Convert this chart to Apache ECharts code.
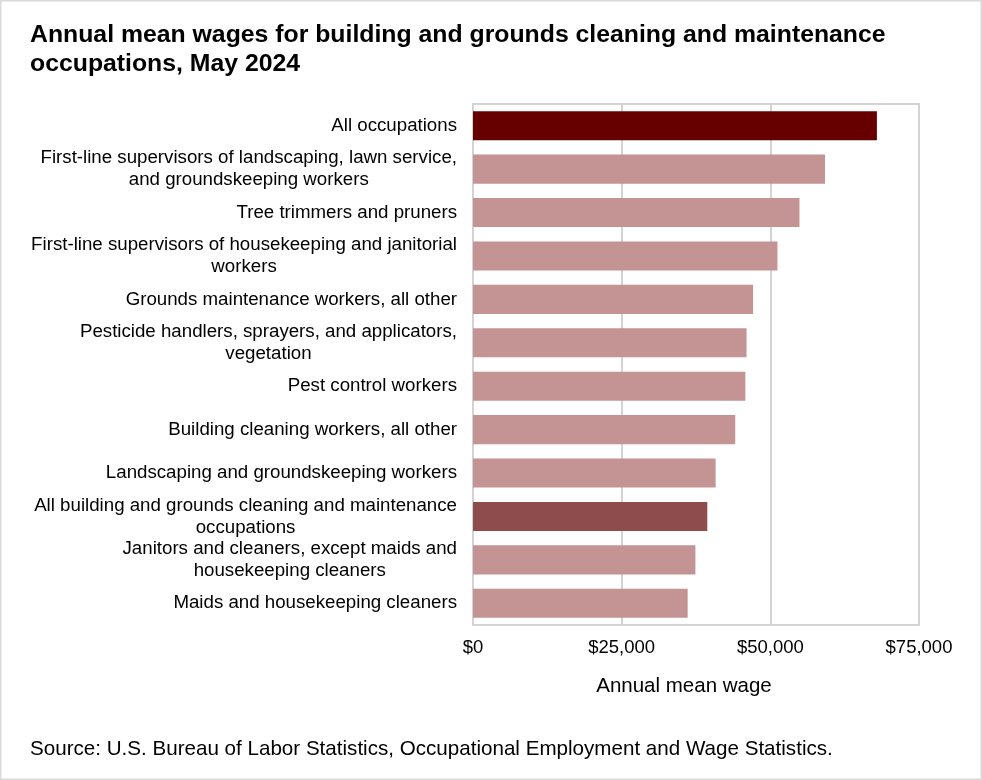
<!DOCTYPE html>
<html>
<head>
<meta charset="utf-8">
<script src="https://cdn.jsdelivr.net/npm/echarts@6/dist/echarts.min.js"></script>
<style>
html,body{margin:0;padding:0;background:#fff;}
#chart{width:982px;height:780px;}
</style>
</head>
<body>
<div id="chart"></div>
<script>
const categories = [
  "All occupations",
  "First-line supervisors of landscaping, lawn service,\nand groundskeeping workers",
  "Tree trimmers and pruners",
  "First-line supervisors of housekeeping and janitorial\nworkers",
  "Grounds maintenance workers, all other",
  "Pesticide handlers, sprayers, and applicators,\nvegetation",
  "Pest control workers",
  "Building cleaning workers, all other",
  "Landscaping and groundskeeping workers",
  "All building and grounds cleaning and maintenance\noccupations",
  "Janitors and cleaners, except maids and\nhousekeeping cleaners",
  "Maids and housekeeping cleaners"
];
const wages = [67920, 59200, 54900, 51200, 47100, 46000, 45800, 44100, 40800, 39400, 37400, 36100];
const xTicks = [0, 25000, 50000, 75000];

const COLOR_ALL = "#660000";
const COLOR_GROUP = "#8f4c4c";
const COLOR_OTHER = "#c49393";
function barColor(name) {
  if (name === "All occupations") return COLOR_ALL;
  if (name.indexOf("All building and grounds") === 0) return COLOR_GROUP;
  return COLOR_OTHER;
}

const chart = echarts.init(document.getElementById("chart"), null, {renderer: "canvas"});
const FONT = "Liberation Sans, Arial, sans-serif";
const option = {
  animation: false,
  backgroundColor: "#ffffff",
  textStyle: {fontFamily: FONT},
  title: {
    text: "Annual mean wages for building and grounds cleaning and maintenance\noccupations, May 2024",
    left: 25,
    top: 16,
    textStyle: {fontFamily: FONT, fontWeight: "bold", fontSize: 24.8, lineHeight: 29, color: "#000"}
  },
  graphic: [
    {
      type: "rect", z: -1, silent: true,
      shape: {x: 0.75, y: 0.75, width: 980.5, height: 778.5},
      style: {fill: "none", stroke: "#d9d9d9", lineWidth: 1.5}
    },
    {
      type: "text", silent: true,
      x: 30, y: 749,
      style: {
        text: "Source: U.S. Bureau of Labor Statistics, Occupational Employment and Wage Statistics.",
        font: "20.6px " + FONT, fill: "#000", verticalAlign: "middle", align: "left"
      }
    }
  ],
  grid: {
    left: 473, right: 63, top: 104, bottom: 155,
    show: true, borderColor: "#d3d3d3", borderWidth: 2
  },
  xAxis: {
    type: "value",
    min: xTicks[0], max: xTicks[xTicks.length - 1], interval: xTicks[1] - xTicks[0],
    name: "Annual mean wage",
    nameLocation: "middle",
    nameGap: 51,
    nameTextStyle: {fontFamily: FONT, fontSize: 20.5, color: "#000", padding: [0, 24, 0, 0]},
    axisLine: {show: false},
    axisTick: {show: false},
    axisLabel: {
      fontFamily: FONT, fontSize: 18.5, color: "#000", margin: 13,
      formatter: v => "$" + v.toLocaleString("en-US")
    },
    splitLine: {show: true, lineStyle: {color: "#d3d3d3", width: 2}}
  },
  yAxis: {
    type: "category",
    inverse: true,
    data: categories,
    axisLine: {show: true, lineStyle: {color: "#d3d3d3", width: 2}},
    axisTick: {show: false},
    axisLabel: {
      margin: 16,
      align: "right",
      color: "#000",
      fontFamily: FONT,
      fontSize: 18.7,
      lineHeight: 22,
      formatter: v => v.split("\n").map(l => "{c|" + l + "}").join("\n"),
      rich: {c: {align: "center", fontFamily: FONT, fontSize: 18.7, lineHeight: 22, color: "#000"}}
    }
  },
  series: [{
    type: "bar",
    data: wages.map((w, i) => ({value: w, itemStyle: {color: barColor(categories[i])}})),
    barCategoryGap: "33%"
  }]
};
chart.setOption(option);
</script>
</body>
</html>
